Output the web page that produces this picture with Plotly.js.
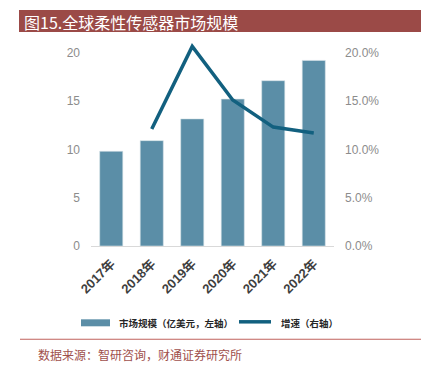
<!DOCTYPE html>
<html>
<head>
<meta charset="utf-8">
<script src="https://cdn.plot.ly/plotly-3.0.1.min.js"></script>
<style>html,body{margin:0;padding:0;background:#fff;}#chart{width:421px;height:368px;}</style>
</head>
<body>
<div id="chart"></div>
<script>
// ---- data ----
const categories = ["2017年", "2018年", "2019年", "2020年", "2021年", "2022年"];
const marketSize = [9.8, 10.9, 13.15, 15.2, 17.1, 19.2];           // 亿美元
const growthYears = ["2018年", "2019年", "2020年", "2021年", "2022年"];
const growthRate = [0.121, 0.2065, 0.151, 0.123, 0.117];            // 增速
const leftTicks = [0, 5, 10, 15, 20];
const rightTicks = [0, 0.05, 0.10, 0.15, 0.20];
const rightTickText = ["0.0%", "5.0%", "10.0%", "15.0%", "20.0%"];
const titleText = "图15.全球柔性传感器市场规模";
const barName = "市场规模（亿美元，左轴）";
const lineName = "增速（右轴）";
const sourceText = "数据来源：智研咨询，财通证券研究所";

// ---- layout helpers ----
const FW = 421, FH = 368;
const L = 91, R = 87, T = 43, B = 121.5;
const PW = FW - L - R, PH = FH - T - B;
const px = x => (x - L) / PW;
const py = y => (FH - B - y) / PH;

const barColor = "#5b8ea7";
const lineColor = "#12607f";
const cjk = "'Noto Sans CJK SC', 'Noto Sans', sans-serif";

const traces = [
  {
    type: "bar", x: categories, y: marketSize, name: barName,
    marker: { color: barColor, line: { color: "#d9e4ea", width: 0.6 } },
    yaxis: "y", showlegend: false, hoverinfo: "x+y"
  },
  {
    type: "scatter", mode: "lines", x: growthYears, y: growthRate, name: lineName,
    line: { color: lineColor, width: 3.5 },
    yaxis: "y2", showlegend: false
  }
];

const layout = {
  width: FW, height: FH,
  margin: { l: L, r: R, t: T, b: B, pad: 0 },
  paper_bgcolor: "#fff", plot_bgcolor: "#fff",
  bargap: 0.43,
  showlegend: false,
  xaxis: {
    type: "category", categoryorder: "array", categoryarray: categories,
    tickangle: -45, ticks: "", ticklabelstandoff: 4,
    tickfont: { family: "'Liberation Sans', " + cjk, size: 13, color: "#3f3f3f", weight: "bold" },
    showline: true, linecolor: "#d9d9d9", linewidth: 1,
    showgrid: false, zeroline: false, fixedrange: true
  },
  yaxis: {
    range: [0, 21], tickvals: leftTicks, ticktext: leftTicks.map(String),
    showgrid: false, zeroline: false, showline: false, ticks: "",
    ticklabelstandoff: 10,
    tickfont: { family: "'Liberation Sans', sans-serif", size: 12, color: "#8c8c8c" },
    fixedrange: true
  },
  yaxis2: {
    overlaying: "y", side: "right",
    range: [0, 0.21], tickvals: rightTicks, ticktext: rightTickText,
    showgrid: false, zeroline: false, showline: false, ticks: "",
    ticklabelstandoff: 10,
    tickfont: { family: "'Liberation Sans', sans-serif", size: 12, color: "#8c8c8c" },
    fixedrange: true
  },
  shapes: [
    // title bar
    { type: "rect", xref: "paper", yref: "paper", x0: px(19), x1: px(421), y0: py(32), y1: py(10),
      fillcolor: "#9b4a47", line: { width: 0 }, layer: "below" },
    // legend swatch: bar
    { type: "rect", xref: "paper", yref: "paper", x0: px(81), x1: px(110), y0: py(327), y1: py(320),
      fillcolor: barColor, line: { width: 0 } },
    // legend swatch: line
    { type: "line", xref: "paper", yref: "paper", x0: px(239), x1: px(271), y0: py(322.5), y1: py(322.5),
      line: { color: lineColor, width: 3.5 } },
    // separator
    { type: "line", xref: "paper", yref: "paper", x0: px(20), x1: px(421), y0: py(340), y1: py(340),
      line: { color: "#c0625c", width: 1.2 } }
  ],
  annotations: [
    { text: titleText, xref: "paper", yref: "paper", x: px(22), y: py(21.5), xanchor: "left", yanchor: "middle",
      showarrow: false, font: { family: cjk, size: 16, color: "#ffffff" } },
    { text: barName, xref: "paper", yref: "paper", x: px(117), y: py(324), xanchor: "left", yanchor: "middle",
      showarrow: false, font: { family: cjk, size: 9.5, color: "#262626", weight: "bold" } },
    { text: lineName, xref: "paper", yref: "paper", x: px(279), y: py(324), xanchor: "left", yanchor: "middle",
      showarrow: false, font: { family: cjk, size: 9.5, color: "#262626", weight: "bold" } },
    { text: sourceText, xref: "paper", yref: "paper", x: px(36), y: py(355), xanchor: "left", yanchor: "middle",
      showarrow: false, font: { family: cjk, size: 12, color: "#a0504c" } }
  ]
};

Plotly.newPlot("chart", traces, layout, { displayModeBar: false, staticPlot: true });
</script>
</body>
</html>
